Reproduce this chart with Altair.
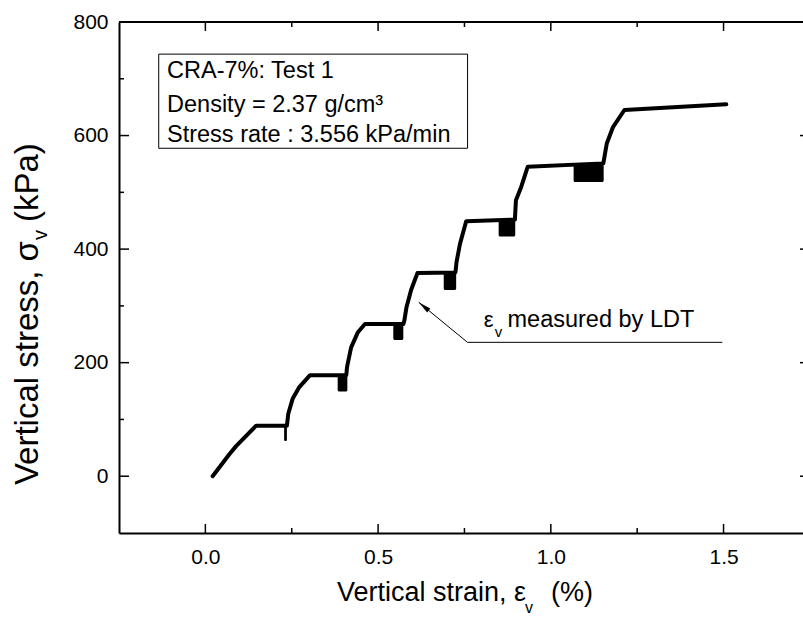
import altair as alt
import pandas as pd

# ---- data ----
strain = [0.021, 0.070, 0.089, 0.147, 0.236, 0.240, 0.253, 0.272, 0.303, 0.408,
          0.410, 0.422, 0.441, 0.462, 0.573, 0.576, 0.582, 0.596, 0.614, 0.724,
          0.727, 0.737, 0.755, 0.896, 0.899, 0.914, 0.933, 1.152, 1.162, 1.180,
          1.213, 1.508]
stress = [0, 39, 53, 89, 89, 110, 137, 157, 178, 178,
          192, 227, 253, 268, 268, 274, 297, 329, 358, 359,
          377, 409, 449, 452, 486, 509, 545, 551, 586, 615,
          645, 655]

# cyclic-loading bands (dense unload/reload loops)
blk_x0 = [0.228, 0.383, 0.544, 0.690, 0.849, 1.066]
blk_x1 = [0.236, 0.411, 0.573, 0.726, 0.897, 1.153]
blk_lo = [62, 149, 240, 328, 422, 518]
blk_hi = [89, 178, 268, 359, 451, 549]

x_major = [0.0, 0.5, 1.0, 1.5]
x_minor = [0.25, 0.75, 1.25]
y_major = [0, 200, 400, 600, 800]
y_minor = [100, 300, 500, 700]

info_lines = ["CRA-7%: Test 1", "Density = 2.37 g/cm\u00b3", "Stress rate : 3.556 kPa/min"]
info_y = [701, 642, 589]

FONT = "Liberation Sans"
W, H = 684, 511

xs = alt.Scale(domain=[-0.25, 1.73], nice=False, zero=False)
ys = alt.Scale(domain=[-100, 800], nice=False, zero=False)

curve = pd.DataFrame({"x": strain, "y": stress, "i": range(len(strain))})
blocks = pd.DataFrame({"x0": blk_x0, "x1": blk_x1, "lo": blk_lo, "hi": blk_hi})

base_x_axis = alt.Axis(values=x_major, format=".1f", title=None, grid=False,
                       ticks=False, tickSize=0, labelPadding=13, labelFont=FONT,
                       labelFontSize=21, labelColor="black", domainColor="black",
                       domainWidth=2)
base_y_axis = alt.Axis(values=y_major, format="d", title=None, grid=False,
                       ticks=False, tickSize=0, labelPadding=11, labelFont=FONT,
                       labelFontSize=21, labelColor="black", domainColor="black",
                       domainWidth=2)

line = alt.Chart(curve).mark_line(color="black", strokeWidth=4, strokeCap="round",
                                  strokeJoin="round").encode(
    x=alt.X("x:Q", scale=xs, axis=base_x_axis),
    y=alt.Y("y:Q", scale=ys, axis=base_y_axis),
    order="i:Q",
)

rects = alt.Chart(blocks).mark_rect(color="black", cornerRadius=1.5).encode(
    x=alt.X("x0:Q", scale=xs), x2="x1:Q",
    y=alt.Y("lo:Q", scale=ys), y2="hi:Q",
)

# ---- tick marks (inward) ----
def xticks(vals, length):
    df = pd.DataFrame({"v": vals})
    bottom = alt.Chart(df).mark_rule(color="black", strokeWidth=1.5).encode(
        x=alt.X("v:Q", scale=xs), y=alt.value(H), y2=alt.value(H - length))
    top = alt.Chart(df).mark_rule(color="black", strokeWidth=1.5).encode(
        x=alt.X("v:Q", scale=xs), y=alt.value(0), y2=alt.value(length))
    return bottom + top

def yticks(vals, length, right=True):
    df = pd.DataFrame({"v": vals})
    left = alt.Chart(df).mark_rule(color="black", strokeWidth=1.5).encode(
        y=alt.Y("v:Q", scale=ys), x=alt.value(0), x2=alt.value(length))
    if not right:
        return left
    r = alt.Chart(df).mark_rule(color="black", strokeWidth=1.5).encode(
        y=alt.Y("v:Q", scale=ys), x=alt.value(W - 3), x2=alt.value(W))
    return left + r

top_border = alt.Chart(pd.DataFrame({"a": [0]})).mark_rule(color="black", strokeWidth=2).encode(
    x=alt.value(0), x2=alt.value(W), y=alt.value(0))

ticks = xticks(x_major, 9) + xticks(x_minor, 5) + yticks(y_major, 10) + yticks(y_minor, 5, right=False)

# ---- info box ----
box = alt.Chart(pd.DataFrame({"x0": [-0.135], "x1": [0.759], "y0": [577.6], "y1": [743.4]})).mark_rect(
    fill="white", stroke="black", strokeWidth=1).encode(
    x=alt.X("x0:Q", scale=xs), x2="x1:Q", y=alt.Y("y0:Q", scale=ys), y2="y1:Q")

info = alt.Chart(pd.DataFrame({"t": info_lines, "y": info_y, "x": [-0.111] * 3})).mark_text(
    align="left", baseline="alphabetic", font=FONT, fontSize=23.5, color="black").encode(
    x=alt.X("x:Q", scale=xs), y=alt.Y("y:Q", scale=ys), text="t:N")

# ---- LDT annotation ----
leader = alt.Chart(pd.DataFrame({"x": [1.4964, 0.7588, 0.6177], "y": [235.8, 235.8, 306.3],
                                 "i": [0, 1, 2]})).mark_line(color="black", strokeWidth=1).encode(
    x=alt.X("x:Q", scale=xs), y=alt.Y("y:Q", scale=ys), order="i:Q")

head = alt.Chart(pd.DataFrame({"x": [0.632], "y": [299.1]})).mark_point(
    shape="M0,-1L0.38,1L-0.38,1Z", filled=True, color="black", opacity=1,
    size=169, angle=309).encode(x=alt.X("x:Q", scale=xs), y=alt.Y("y:Q", scale=ys))

eps = alt.Chart(pd.DataFrame({"x": [0.806], "y": [262.2], "t": ["\u03b5"]})).mark_text(
    align="left", baseline="alphabetic", font=FONT, fontSize=22, color="black").encode(
    x=alt.X("x:Q", scale=xs), y=alt.Y("y:Q", scale=ys), text="t:N")
eps_v = alt.Chart(pd.DataFrame({"x": [0.838], "y": [244.6], "t": ["v"]})).mark_text(
    align="left", baseline="alphabetic", font=FONT, fontSize=15, color="black").encode(
    x=alt.X("x:Q", scale=xs), y=alt.Y("y:Q", scale=ys), text="t:N")
ldt = alt.Chart(pd.DataFrame({"x": [0.8746], "y": [262.2], "t": ["measured by LDT"]})).mark_text(
    align="left", baseline="alphabetic", font=FONT, fontSize=23.5, color="black").encode(
    x=alt.X("x:Q", scale=xs), y=alt.Y("y:Q", scale=ys), text="t:N")

# ---- axis titles with subscripts ----
one = pd.DataFrame({"a": [0]})

def ptext(t, x, y, size, align="left", angle=0):
    kw = dict(align=align, baseline="alphabetic", font=FONT, fontSize=size, color="black")
    if angle:
        kw["angle"] = angle
    return alt.Chart(one).mark_text(text=t, **kw).encode(x=alt.value(x), y=alt.value(y))

xt1 = ptext("Vertical strain, \u03b5", 407, 579, 27, align="right")
xt2 = ptext("v", 406, 591, 16)
xt3 = ptext("(%)", 432, 579, 27)

yt1 = ptext("Vertical stress, \u03c3", -81, 219, 33, align="right", angle=270)
yt2 = ptext("v", -72, 218, 20, angle=270)
yt3 = ptext("(kPa)", -81, 200, 33, angle=270)

chart = alt.layer(
    box, info, line, rects, leader, head, eps, eps_v, ldt, ticks, top_border,
    xt1, xt2, xt3, yt1, yt2, yt3,
).properties(
    width=W, height=H,
    autosize=alt.AutoSizeParams(type="none"),
    padding={"left": 119, "top": 22, "right": 0, "bottom": 84},
).configure_view(stroke=None).configure(background="white")

chart.save("out.html", embed_options={"renderer": "svg", "actions": False})
